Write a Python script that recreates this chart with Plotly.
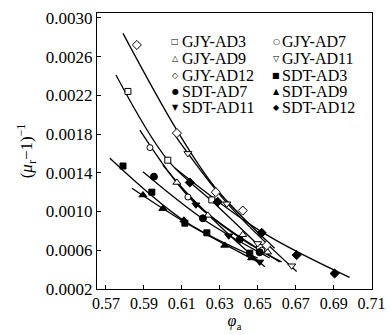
import plotly.graph_objects as go

# ---- data ----
series_names = ["GJY-AD3", "GJY-AD7", "GJY-AD9", "GJY-AD11", "GJY-AD12",
                "SDT-AD3", "SDT-AD7", "SDT-AD9", "SDT-AD11", "SDT-AD12"]

# measured points
gjy_ad3_x = [0.5816, 0.6026, 0.6258, 0.6510]
gjy_ad3_y = [0.00224, 0.00153, 0.00112, 0.00063]
gjy_ad7_x = [0.5932, 0.6132, 0.6405, 0.6521]
gjy_ad7_y = [0.00166, 0.00115, 0.00071, 0.00060]
gjy_ad9_x = [0.6074, 0.6237, 0.6421, 0.6552]
gjy_ad9_y = [0.00130, 0.00096, 0.00076, 0.00058]
gjy_ad11_x = [0.6132, 0.6337, 0.6500, 0.6679]
gjy_ad11_y = [0.00160, 0.00108, 0.00067, 0.00044]
gjy_ad12_x = [0.5863, 0.6074, 0.6279, 0.6421, 0.6547]
gjy_ad12_y = [0.00272, 0.00181, 0.00120, 0.00101, 0.00065]
sdt_ad3_x = [0.5790, 0.5942, 0.6116, 0.6232, 0.6458]
sdt_ad3_y = [0.00147, 0.00120, 0.00088, 0.00078, 0.00057]
sdt_ad7_x = [0.5953, 0.6211, 0.6405, 0.6510]
sdt_ad7_y = [0.00136, 0.00093, 0.00071, 0.00058]
sdt_ad9_x = [0.5895, 0.6000, 0.6111, 0.6326, 0.6468]
sdt_ad9_y = [0.00117, 0.00103, 0.00091, 0.00065, 0.00052]
sdt_ad11_x = [0.6174, 0.6347, 0.6510]
sdt_ad11_y = [0.00107, 0.00075, 0.00048]
sdt_ad12_x = [0.6142, 0.6289, 0.6521, 0.6705, 0.6905]
sdt_ad12_y = [0.00130, 0.00110, 0.00078, 0.00055, 0.00036]

# fitted curves
fit_gjy_ad3_x = [0.5753, 0.6026, 0.6274, 0.6563]
fit_gjy_ad3_y = [0.00241, 0.00153, 0.00108, 0.00054]
fit_gjy_ad7_x = [0.5879, 0.6142, 0.6405, 0.6626]
fit_gjy_ad7_y = [0.00184, 0.00114, 0.00073, 0.00048]
fit_gjy_ad9_x = [0.6000, 0.6237, 0.6616]
fit_gjy_ad9_y = [0.00148, 0.00098, 0.00048]
fit_gjy_ad11_x = [0.6063, 0.6337, 0.6705]
fit_gjy_ad11_y = [0.00179, 0.00109, 0.00038]
fit_gjy_ad12_x = [0.5790, 0.6074, 0.6279, 0.6589]
fit_gjy_ad12_y = [0.00284, 0.00184, 0.00124, 0.00062]
fit_sdt_ad3_x = [0.5721, 0.6116, 0.6500]
fit_sdt_ad3_y = [0.00155, 0.00090, 0.00052]
fit_sdt_ad7_x = [0.5895, 0.6221, 0.6563]
fit_sdt_ad7_y = [0.00141, 0.00091, 0.00052]
fit_sdt_ad9_x = [0.5837, 0.6116, 0.6500]
fit_sdt_ad9_y = [0.00124, 0.00089, 0.00048]
fit_sdt_ad11_x = [0.6090, 0.6311, 0.6537]
fit_sdt_ad11_y = [0.00126, 0.00083, 0.00043]
fit_sdt_ad12_x = [0.6063, 0.6521, 0.6984]
fit_sdt_ad12_y = [0.00145, 0.00079, 0.00032]

x_ticks = [0.57, 0.59, 0.61, 0.63, 0.65, 0.67, 0.69, 0.71]
y_ticks = [0.0002, 0.0006, 0.0010, 0.0014, 0.0018, 0.0022, 0.0026, 0.0030]

points = [(gjy_ad3_x, gjy_ad3_y), (gjy_ad7_x, gjy_ad7_y), (gjy_ad9_x, gjy_ad9_y),
          (gjy_ad11_x, gjy_ad11_y), (gjy_ad12_x, gjy_ad12_y), (sdt_ad3_x, sdt_ad3_y),
          (sdt_ad7_x, sdt_ad7_y), (sdt_ad9_x, sdt_ad9_y), (sdt_ad11_x, sdt_ad11_y),
          (sdt_ad12_x, sdt_ad12_y)]
fits = [(fit_gjy_ad3_x, fit_gjy_ad3_y), (fit_gjy_ad7_x, fit_gjy_ad7_y),
        (fit_gjy_ad9_x, fit_gjy_ad9_y), (fit_gjy_ad11_x, fit_gjy_ad11_y),
        (fit_gjy_ad12_x, fit_gjy_ad12_y), (fit_sdt_ad3_x, fit_sdt_ad3_y),
        (fit_sdt_ad7_x, fit_sdt_ad7_y), (fit_sdt_ad9_x, fit_sdt_ad9_y),
        (fit_sdt_ad11_x, fit_sdt_ad11_y), (fit_sdt_ad12_x, fit_sdt_ad12_y)]

symbols = ["square", "circle", "triangle-up", "triangle-down", "diamond",
           "square", "circle", "triangle-up", "triangle-down", "diamond"]
fills = ["white"] * 5 + ["black"] * 5
sizes = [6, 6, 7, 7, 7, 6, 7, 7, 7, 7]
glyphs = ["□", "○", "△", "▽", "◇", "■", "●", "▲", "▼", "◆"]

FONT = "Liberation Serif, Times New Roman, serif"

fig = go.Figure()
for (fx, fy) in fits:
    fig.add_trace(go.Scatter(x=fx, y=fy, mode="lines",
                             line=dict(color="black", width=1.3, shape="spline", smoothing=1),
                             showlegend=False, hoverinfo="skip"))
for i, (px, py) in enumerate(points):
    fig.add_trace(go.Scatter(x=px, y=py, mode="markers", name=series_names[i],
                             marker=dict(symbol=symbols[i], size=sizes[i], color=fills[i],
                                         line=dict(color="black", width=1)),
                             showlegend=False))

# legend built as text (two columns, five rows)
glyph_x = [0.284, 0.651]
text_x = [0.300, 0.667]
row_y = [0.895, 0.835, 0.775, 0.716, 0.656]
for i, name in enumerate(series_names):
    r, c = divmod(i, 2)
    fig.add_annotation(
        x=glyph_x[c], y=row_y[r], xref="paper", yref="paper",
        xanchor="center", yanchor="middle", showarrow=False,
        text=glyphs[i], font=dict(family="DejaVu Sans", size=8, color="black"))
    fig.add_annotation(
        x=text_x[c], y=row_y[r], xref="paper", yref="paper",
        xanchor="left", yanchor="middle", showarrow=False,
        text=name, font=dict(family=FONT, size=16, color="black"))

fig.update_layout(
    width=390, height=335,
    margin=dict(l=97, r=18, t=13, b=46),
    paper_bgcolor="white", plot_bgcolor="white",
    font=dict(family=FONT, color="black"),
    showlegend=False,
)
fig.update_xaxes(
    range=[0.5653, 0.7102], tickvals=x_ticks, tickformat=".2f",
    ticks="inside", ticklen=4, tickcolor="black", tickwidth=1,
    showline=True, linecolor="black", linewidth=1.3, mirror=True,
    showgrid=False, zeroline=False, automargin=False,
    tickfont=dict(family=FONT, size=16, color="black"),
    title=dict(text="<i>φ</i><sub>a</sub>", font=dict(family=FONT, size=16), standoff=0),
)
fig.update_yaxes(
    range=[0.0002, 0.00305], tickvals=y_ticks, tickformat=".4f",
    ticks="inside", ticklen=4, tickcolor="black", tickwidth=1,
    showline=True, linecolor="black", linewidth=1.3, mirror=True,
    showgrid=False, zeroline=False, automargin=False,
    tickfont=dict(family=FONT, size=17, color="black"),
    title=dict(text="(<i>μ</i><sub>r</sub>−1)<sup>−1</sup>", font=dict(family=FONT, size=17), standoff=8),
)

fig.write_html("out.html", config={"displayModeBar": False},
               post_script="document.body.style.margin='0px';")
